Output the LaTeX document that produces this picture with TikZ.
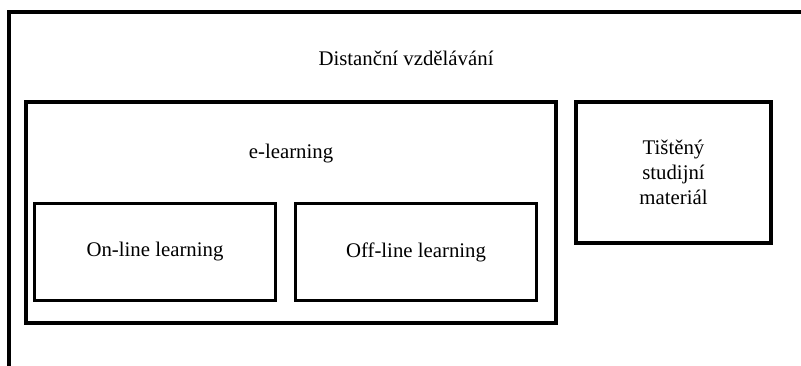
\documentclass[tikz,border=0pt]{standalone}
\usepackage{fontspec}
\setmainfont{Liberation Serif}
\usepackage{tikz}
\tikzstyle{every node}=[font=\fontsize{20.8}{25}\selectfont]
\tikzstyle{group}=[rectangle,
                   draw=black,
                   line width=4pt,
                   inner sep=0pt]
\tikzstyle{form}=[rectangle,
                  draw=black,
                  line width=3pt,
                  minimum width=241pt,
                  minimum height=97pt,
                  inner sep=0pt]

\begin{document}
\begin{tikzpicture}[x=1pt,y=-1pt]
\useasboundingbox (0,0) rectangle (801,366);
\clip (0,0) rectangle (801,366);
% outer frame runs off the page on the right and at the bottom
\node (distance) [group,minimum width=841pt,minimum height=388pt] at (429.5,206) {};
\node (distance_title) [anchor=base] at (406,66) {Distanční vzdělávání};
% e-learning and its two forms
\node (elearning) [group,minimum width=530pt,minimum height=221pt] at (291,212.5) {};
\node (elearning_title) [anchor=base] at (291,159) {e-learning};
\node (online)  [form] at (155,252) {On-line learning};
\node (offline) [form] at (416,252) {Off-line learning};
% printed material
\node (printed) [group,line width=4.5pt,minimum width=195pt,minimum height=141pt,
                 align=center] at (673.5,172.5) {Tištěný\\studijní\\materiál};
\end{tikzpicture}
\end{document}
